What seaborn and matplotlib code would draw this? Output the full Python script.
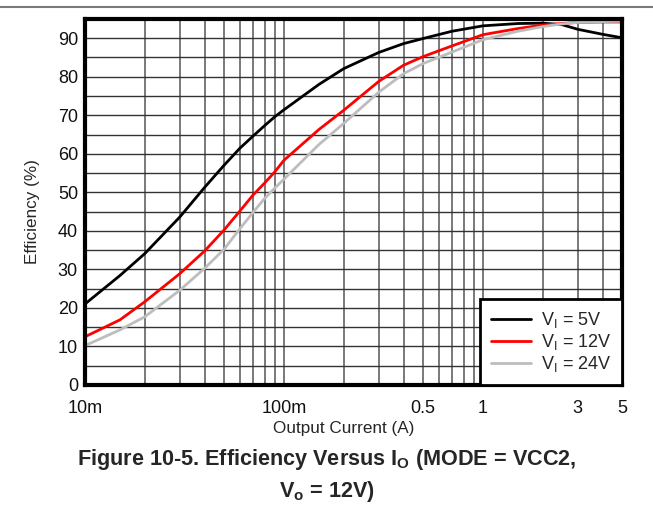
import numpy as np
import pandas as pd
import matplotlib
matplotlib.use('Agg')
import matplotlib.pyplot as plt
import seaborn as sns
from matplotlib.ticker import FixedLocator, LogLocator, NullFormatter, MultipleLocator
from matplotlib.lines import Line2D

# Output current (A) and efficiency (%)
current = [0.01, 0.015, 0.02, 0.03, 0.04, 0.05, 0.06, 0.07, 0.08, 0.09, 0.1,
           0.15, 0.2, 0.3, 0.4, 0.5, 0.7, 1, 1.5, 2, 2.5, 3, 4, 5]
eff_5v = [21.0, 28.4, 34.1, 43.6, 51.3, 57.0, 61.4, 64.6, 67.3, 69.6, 71.4,
          78.0, 82.1, 86.3, 88.6, 89.9, 91.8, 93.2, 93.8, 93.9, 93.5, 92.3, 91.0, 90.1]
eff_12v = [12.5, 16.9, 21.6, 28.9, 34.8, 40.2, 45.1, 49.3, 52.4, 55.3, 58.3,
           66.3, 71.3, 78.8, 83.0, 85.2, 88.0, 90.9, 92.5, 93.4, 93.8, 94.1, 94.2, 94.2]
eff_24v = [10.2, 14.3, 17.7, 24.6, 30.3, 35.2, 40.5, 44.8, 48.4, 51.1, 53.4,
           62.4, 67.9, 76.0, 80.8, 83.4, 86.4, 89.6, 91.8, 93.0, 93.7, 94.1, 94.3, 94.4]

series_labels = ['V$_\\mathregular{I}$ = 5V', 'V$_\\mathregular{I}$ = 12V', 'V$_\\mathregular{I}$ = 24V']
series_colors = ['#000000', '#ff0000', '#bdbdbd']

xtick_vals = [0.01, 0.1, 0.5, 1, 3, 5]
xtick_labels = ['10m', '100m', '0.5', '1', '3', '5']
ytick_vals = [0, 10, 20, 30, 40, 50, 60, 70, 80, 90]

df = pd.concat([
    pd.DataFrame({'current': current, 'eff': vals, 'series': lab})
    for vals, lab in zip([eff_5v, eff_12v, eff_24v], series_labels)
])

sns.set_theme(style='white')
plt.rcParams['font.family'] = ['Liberation Sans', 'DejaVu Sans']

fig = plt.figure(figsize=(6.53, 5.11), dpi=100)
ax = fig.add_axes([0.130, 0.2466, 0.8225, 0.7164])

# grid first so curves sit on top
ax.set_xscale('log')
ax.set_xlim(0.01, 5)
ax.set_ylim(0, 95)
ax.xaxis.set_major_locator(FixedLocator(xtick_vals))
ax.set_xticklabels(xtick_labels)
ax.xaxis.set_minor_locator(LogLocator(base=10, subs=np.arange(2, 10)))
ax.xaxis.set_minor_formatter(NullFormatter())
ax.yaxis.set_major_locator(FixedLocator(ytick_vals))
ax.yaxis.set_minor_locator(MultipleLocator(5))
ax.grid(True, which='both', axis='x', color='#555555', lw=1.1)
ax.grid(True, which='both', axis='y', color='#333333', lw=1.0)
ax.set_axisbelow(True)

sns.lineplot(data=df, x='current', y='eff', hue='series', hue_order=series_labels,
             palette=dict(zip(series_labels, series_colors)), lw=2, ax=ax,
             estimator=None, sort=True)

ax.tick_params(axis='both', which='both', length=0, labelsize=13, colors='#111111')
ax.tick_params(axis='x', pad=11)
ax.tick_params(axis='y', pad=5)
for sp in ax.spines.values():
    sp.set_visible(True)
    sp.set_color('black')
    sp.set_linewidth(3)

ax.set_xlabel('Output Current (A)', fontsize=12.3)
ax.set_ylabel('Efficiency (%)', fontsize=12.3)
ax.xaxis.set_label_coords(0.482, -0.098)
ax.yaxis.set_label_coords(-0.084, 0.473)

leg = ax.legend(loc='lower right', fontsize=13, frameon=True, fancybox=False,
                borderaxespad=0, handlelength=2.2, handletextpad=0.55,
                labelspacing=0.12, borderpad=0.6)
leg.get_frame().set_edgecolor('black')
leg.get_frame().set_linewidth(2)
leg.get_frame().set_alpha(1)
for h in leg.get_lines():
    h.set_linewidth(2)

# top separator rule
fig.add_artist(Line2D([0, 1], [1 - 7 / 511, 1 - 7 / 511], color='#7a7a7a', lw=1.5,
                      transform=fig.transFigure))

fig.text(0.5, 1 - 460 / 511, 'Figure 10-5. Efficiency Versus I$_\\mathregular{O}$ (MODE = VCC2,',
         ha='center', va='center', fontsize=15.6, fontweight='bold')
fig.text(0.5, 1 - 491 / 511, 'V$_\\mathregular{o}$ = 12V)',
         ha='center', va='center', fontsize=15.6, fontweight='bold')

fig.savefig('out.png', dpi=100)
